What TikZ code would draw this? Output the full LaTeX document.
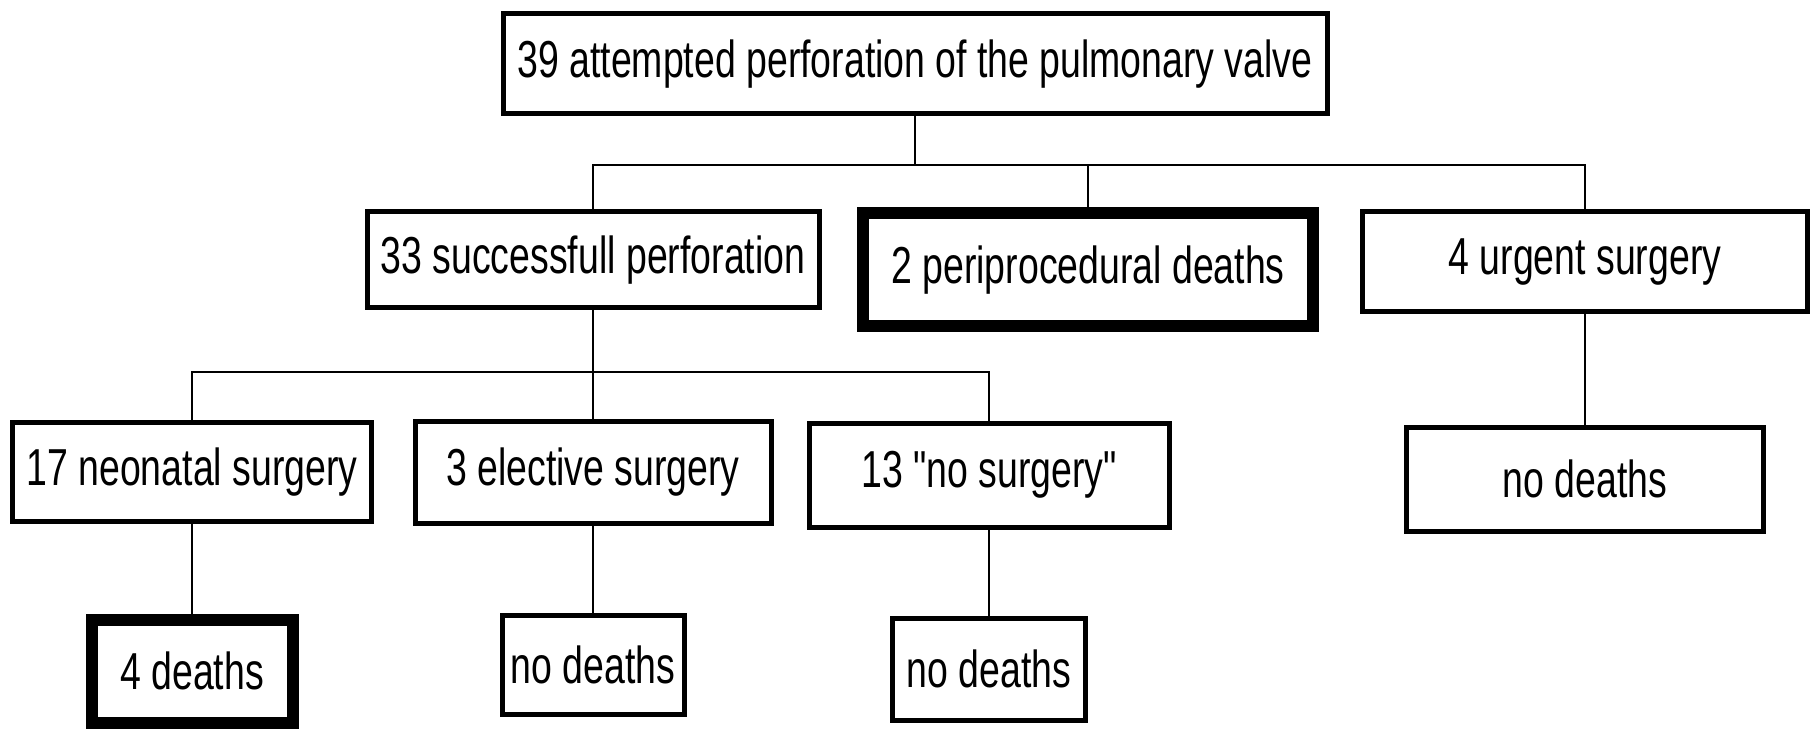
\documentclass[tikz,border=0pt]{standalone}
\usepackage{fontspec}
\setmainfont[FakeStretch=0.72]{Liberation Sans}
\newfontfamily\boxfont[FakeStretch=0.72]{Liberation Sans}
\begin{document}
\begin{tikzpicture}[x=0.5pt,y=-0.5pt,
  box/.style={draw=black,line width=2.5pt,fill=white,inner sep=0pt,align=center,
    font=\boxfont\fontsize{26}{30}\selectfont},
  thickbox/.style={box,line width=6pt},
  conn/.style={draw=black,line width=1pt}]
\useasboundingbox[fill=white] (0,0) rectangle (1813,732);
\node[box,minimum width=412pt,minimum height=50pt] (top) at (915,64) {39 attempted perforation of the pulmonary valve};
\node[box,minimum width=226pt,minimum height=48pt] (s33) at (593,260) {33 successfull perforation};
\node[thickbox,minimum width=225pt,minimum height=56.5pt] (peri) at (1088,270) {2 periprocedural deaths};
\node[box,minimum width=222.5pt,minimum height=50pt] (urg) at (1585,262) {4 urgent surgery};
\node[box,minimum width=179.5pt,minimum height=49.5pt] (neo) at (192,472) {17 neonatal surgery};
\node[box,minimum width=178pt,minimum height=51pt] (elec) at (593,472) {3 elective surgery};
\node[box,minimum width=180pt,minimum height=52pt] (nos) at (989,475) {13 "no surgery"};
\node[box,minimum width=178.5pt,minimum height=52pt] (nd3) at (1585,479) {no deaths};
\node[thickbox,minimum width=100.5pt,minimum height=51.5pt] (d4) at (192,671) {4 deaths};
\node[box,minimum width=91pt,minimum height=49.5pt] (nd1) at (593,665) {no deaths};
\node[box,minimum width=96.5pt,minimum height=51pt] (nd2) at (989,669) {no deaths};
\coordinate (j1) at (915,165);
\coordinate (j2) at (593,372);
\draw[conn] (top.south) -- (j1);
\draw[conn] (s33.north) -- (s33.north |- j1) -- (urg.north |- j1) -- (urg.north);
\draw[conn] (peri.north) -- (peri.north |- j1);
\draw[conn] (s33.south) -- (elec.north);
\draw[conn] (neo.north) -- (neo.north |- j2) -- (nos.north |- j2) -- (nos.north);
\draw[conn] (neo.south) -- (d4.north);
\draw[conn] (elec.south) -- (nd1.north);
\draw[conn] (nos.south) -- (nd2.north);
\draw[conn] (urg.south) -- (nd3.north);
\end{tikzpicture}
\end{document}
